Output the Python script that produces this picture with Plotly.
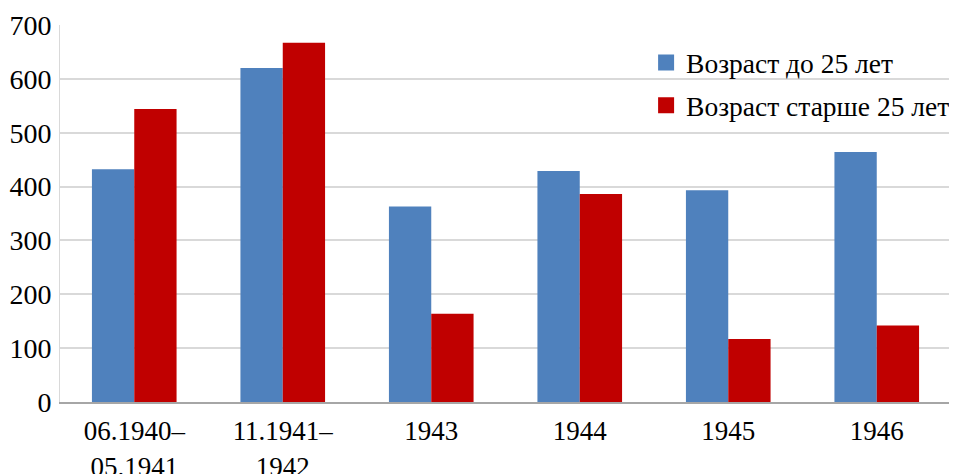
import plotly.graph_objects as go

categories = ["06.1940–<br>05.1941", "11.1941–<br>1942", "1943", "1944", "1945", "1946"]
young = [432, 620, 363, 429, 393, 464]
older = [544, 667, 164, 386, 117, 142]
names = ["Возраст до 25 лет", "Возраст старше 25 лет"]
colors = ["#4F81BD", "#C00000"]

font = "Liberation Serif"

fig = go.Figure()
fig.add_trace(go.Bar(x=categories, y=young, name=names[0], marker_color=colors[0],
                     marker_line_width=0, showlegend=False))
fig.add_trace(go.Bar(x=categories, y=older, name=names[1], marker_color=colors[1],
                     marker_line_width=0, showlegend=False))
# legend-only entries, to get bigger square swatches than the bar legend gives
for i, lg in enumerate(["legend", "legend2"]):
    fig.add_trace(go.Scatter(x=[None], y=[None], mode="markers", name=names[i],
                             marker=dict(symbol="square", size=16, color=colors[i]),
                             legend=lg, showlegend=True, hoverinfo="skip"))

# page body has an 8px margin, so the figure is 8px smaller than the window
leg = dict(font=dict(family=font, size=27.5, color="black"), bgcolor="rgba(0,0,0,0)",
           xref="paper", yref="paper", xanchor="left", yanchor="middle",
           itemwidth=30, visible=True)
fig.update_layout(
    width=949, height=466,
    margin=dict(l=52, r=6, t=17, b=72, autoexpand=False),
    plot_bgcolor="white", paper_bgcolor="white",
    barmode="group", bargap=0.43, bargroupgap=0,
    font=dict(family=font, size=28, color="black"),
    showlegend=True,
    legend=dict(leg, x=0.6578, y=0.9),
    legend2=dict(leg, x=0.6578, y=0.787),
)
fig.update_xaxes(showline=True, linecolor="#a6a6a6", linewidth=2, ticks="",
                 tickfont=dict(size=27), tickangle=0, automargin=False,
                 ticklabelstandoff=4)
fig.update_yaxes(range=[0, 700], dtick=100, showgrid=True, gridcolor="#d9d9d9",
                 gridwidth=1.5, zeroline=False, showline=True, linecolor="#d9d9d9",
                 ticks="", tickfont=dict(size=28), automargin=False,
                 ticklabelstandoff=2)

fig.write_html("out.html")
